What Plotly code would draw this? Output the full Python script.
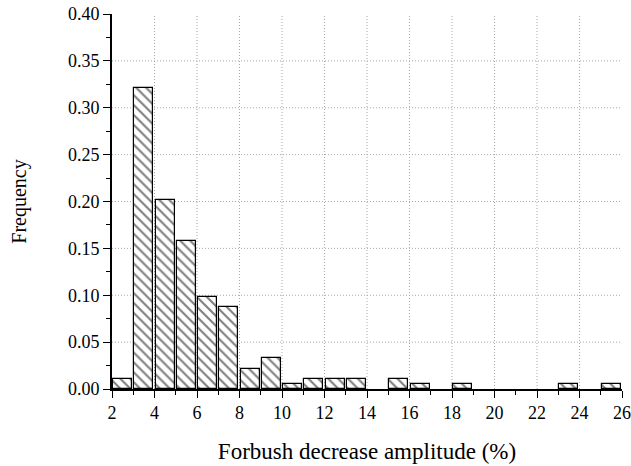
import plotly.graph_objects as go

bin_left = [2, 3, 4, 5, 6, 7, 8, 9, 10, 11, 12, 13, 14, 15, 16, 17, 18, 19, 20, 21, 22, 23, 24, 25]
frequency = [0.0107, 0.321, 0.2016, 0.158, 0.0978, 0.0871, 0.0217, 0.0327, 0.0053, 0.0107, 0.0107, 0.0107,
             0.0, 0.0107, 0.0053, 0.0, 0.0053, 0.0, 0.0, 0.0, 0.0, 0.0053, 0.0, 0.0053]
x_ticks = list(range(2, 27, 2))
y_ticks = [0.0, 0.05, 0.10, 0.15, 0.20, 0.25, 0.30, 0.35, 0.40]

centers = [b + 0.5 for b in bin_left]
heights = [v if v > 0 else None for v in frequency]
fig = go.Figure(go.Bar(
    x=centers, y=heights, width=0.9,
    marker=dict(color="white", line=dict(color="black", width=1.2),
                pattern=dict(shape="\\", fgcolor="black", bgcolor="white", size=7, solidity=0.3)),
))

grid_style = dict(color="#a8a8a8", width=1, dash="1px,2px")
shapes = []
for xv in x_ticks[1:-1]:
    shapes.append(dict(type="line", xref="x", yref="paper", x0=xv, x1=xv, y0=0, y1=1,
                       line=grid_style, layer="below"))
for yv in y_ticks[1:-1]:
    shapes.append(dict(type="line", xref="paper", yref="y", x0=0, x1=1, y0=yv, y1=yv,
                       line=grid_style, layer="below"))

font = "Liberation Serif, Times New Roman, serif"
fig.update_layout(
    width=631, height=466,
    margin=dict(l=112, r=9, t=14, b=77),
    plot_bgcolor="white", paper_bgcolor="white",
    showlegend=False, bargap=0, shapes=shapes,
    font=dict(family=font, size=18, color="black"),
)
fig.update_xaxes(
    range=[2, 26], tickvals=x_ticks, ticktext=[str(v) for v in x_ticks],
    showline=True, linecolor="black", linewidth=1.6, mirror=False,
    ticks="outside", ticklen=7, tickwidth=1.3, tickcolor="black",
    minor=dict(ticks="outside", dtick=1, tick0=2, ticklen=4, tickwidth=1.1, tickcolor="black", showgrid=False),
    showgrid=False, zeroline=False, automargin=False,
    title=dict(text="Forbush decrease amplitude (%)", font=dict(size=23), standoff=20),
)
fig.update_yaxes(
    range=[0, 0.40], tickvals=y_ticks, ticktext=[f"{v:.2f}" for v in y_ticks],
    showline=True, linecolor="black", linewidth=1.6, mirror=False,
    ticks="outside", ticklen=7, tickwidth=1.3, tickcolor="black",
    minor=dict(ticks="outside", dtick=0.025, tick0=0, ticklen=4, tickwidth=1.1, tickcolor="black", showgrid=False),
    showgrid=False, zeroline=False, automargin=False,
    title=dict(text="Frequency", font=dict(size=20), standoff=36),
)
fig.write_html("out.html")
